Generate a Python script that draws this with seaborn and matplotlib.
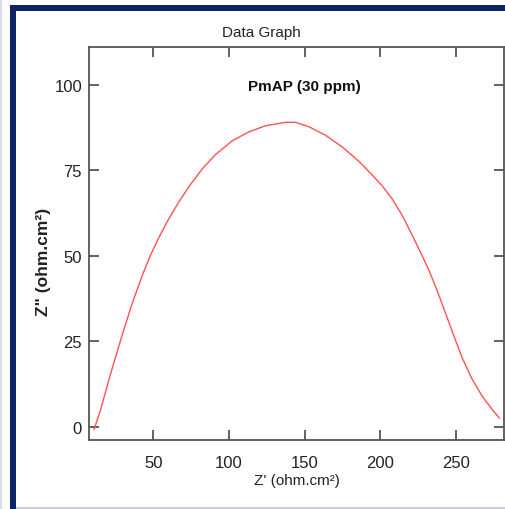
import numpy as np
import pandas as pd
import matplotlib
matplotlib.use("Agg")
import matplotlib.pyplot as plt
from matplotlib.patches import Rectangle
import seaborn as sns

# Nyquist data for PmAP (30 ppm)
z_real = [10.8, 15.2, 21.8, 29.5, 36.1, 42.7, 48.2, 53.7, 60.3, 66.9, 73.5,
          82.3, 91.1, 102.1, 113.1, 124.1, 137.3, 143.9, 152.8, 163.8, 174.8,
          185.8, 194.6, 201.2, 207.8, 214.4, 221.0, 226.5, 232.0, 237.5, 243.0,
          248.5, 254.0, 260.6, 267.2, 273.8, 278.6]
z_imag = [-0.8, 5.1, 15.6, 27.0, 36.2, 44.3, 50.3, 55.4, 60.9, 65.8, 70.2,
          75.4, 79.6, 83.6, 86.2, 88.0, 89.0, 89.0, 87.7, 85.2, 81.8,
          77.6, 73.6, 70.4, 66.6, 61.8, 56.0, 51.0, 45.8, 39.8, 33.2,
          26.6, 20.2, 13.9, 9.0, 5.1, 2.6]

x_ticks = [50, 100, 150, 200, 250]
y_ticks = [0, 25, 50, 75, 100]

title_text = "Data Graph"
series_label = "PmAP (30 ppm)"
x_label = "Z' (ohm.cm²)"
y_label = 'Z" (ohm.cm²)'

df = pd.DataFrame({"zr": z_real, "zi": z_imag})

sns.set_theme(style="white")
fonts = ["Liberation Sans", "DejaVu Sans"]
plt.rcParams["font.family"] = fonts

W, H = 506, 510
fig = plt.figure(figsize=(W / 100, H / 100), dpi=100)
fig.patch.set_facecolor("white")

# frame decoration
navy = "#0b2463"
fig.patches.append(Rectangle((10 / W, 0), 6 / W, 1 - 6 / H, transform=fig.transFigure,
                             facecolor=navy, edgecolor="none", zorder=0))
fig.patches.append(Rectangle((10 / W, 1 - 12 / H), 1 - 10 / W, 6 / H, transform=fig.transFigure,
                             facecolor=navy, edgecolor="none", zorder=0))
fig.patches.append(Rectangle((0.5 / W, 0), 1.5 / W, 1, transform=fig.transFigure,
                             facecolor="#d6dbe6", edgecolor="none", zorder=0))
fig.patches.append(Rectangle((16 / W, 0), 1 - 16 / W, 2 / H, transform=fig.transFigure,
                             facecolor="#c9ccd8", edgecolor="none", zorder=0))

ax = fig.add_axes([89 / W, 1 - 441 / H, (504 - 89) / W, (441 - 48) / H])
sns.lineplot(data=df, x="zr", y="zi", sort=False, estimator=None, ax=ax,
             color="#ff5252", linewidth=1.0)

ax.set_xlim(7.5, 281.6)
ax.set_ylim(-3.8, 111)
ax.set_xticks(x_ticks)
ax.set_yticks(y_ticks)
ax.set_xticklabels([str(v) for v in x_ticks])
ax.set_yticklabels([str(v) for v in y_ticks])

for s in ax.spines.values():
    s.set_color("#555555")
    s.set_linewidth(1.3)
ax.tick_params(axis="both", direction="in", length=7, width=1.3, color="#555555",
               labelsize=12, labelcolor="#222222", top=True, right=True,
               bottom=True, left=True)
ax.tick_params(axis="x", pad=11)
ax.tick_params(axis="y", pad=5)

ax.set_xlabel(x_label, fontsize=11, color="#222222", va="center")
ax.xaxis.set_label_coords(0.5, -0.103)
ax.set_ylabel(y_label, fontsize=12.5, fontweight="bold", color="#222222",
              va="center", ha="center")
ax.yaxis.set_label_coords(-0.11, 0.455)

ax.text(150, 99.7, series_label, ha="center", va="center", fontsize=11,
        fontweight="bold", color="#111111")
fig.text(261 / W, 1 - 33 / H, title_text, ha="center", va="center",
         fontsize=11, color="#222222")

fig.savefig("out.png", dpi=100)
